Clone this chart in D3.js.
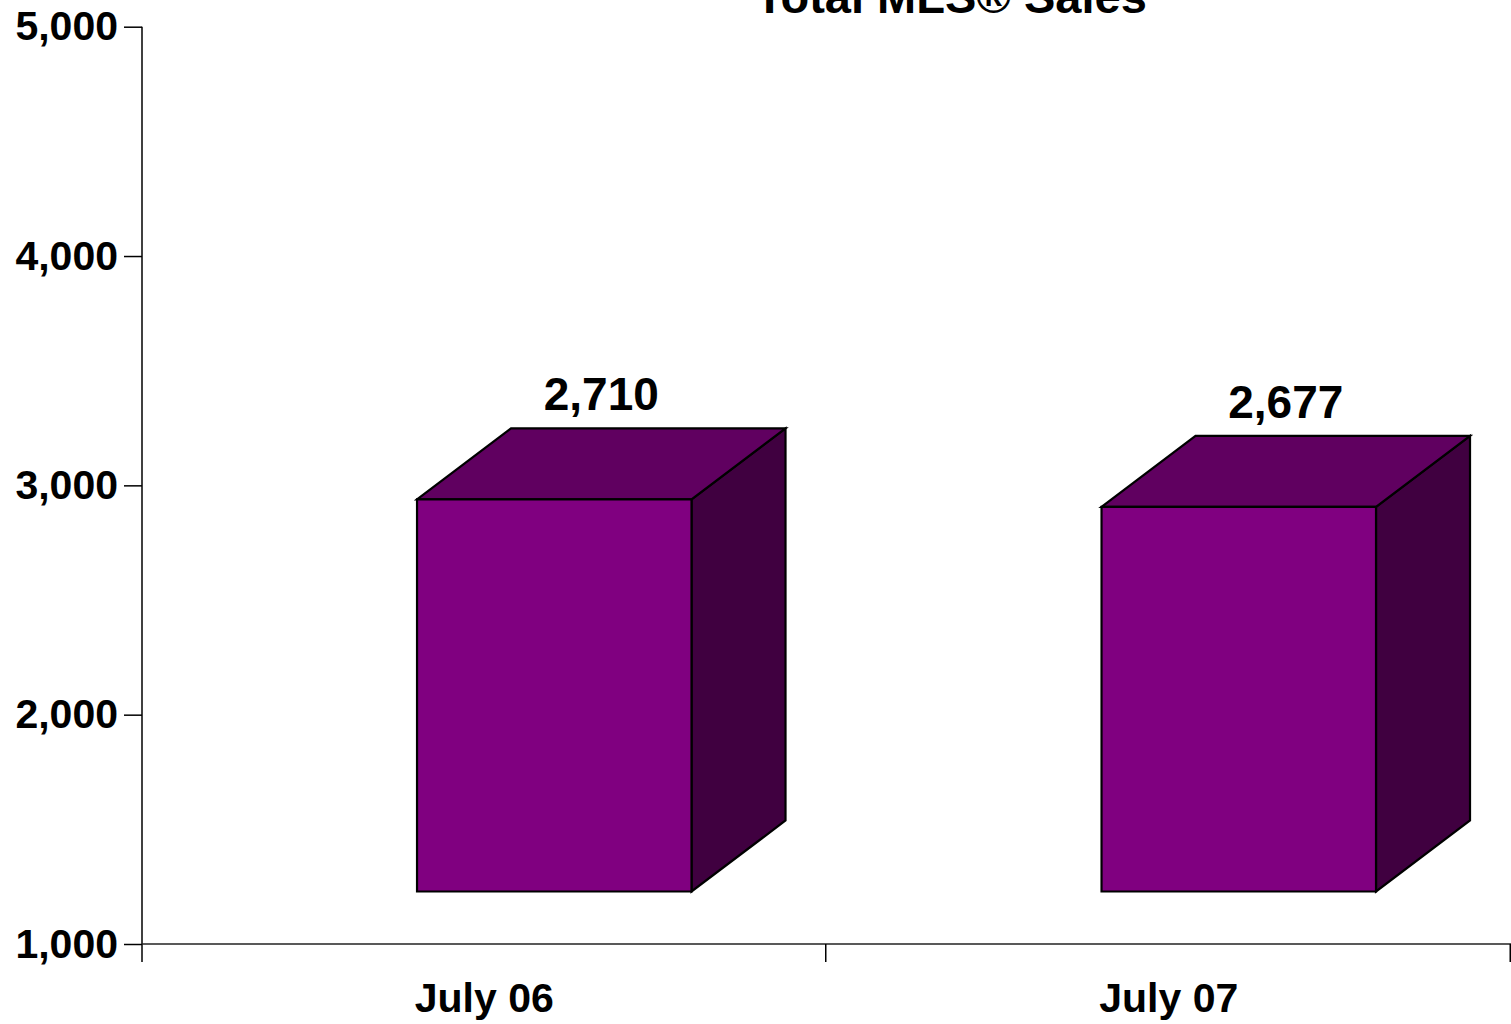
<!DOCTYPE html>
<html>
<head>
<meta charset="utf-8">
<script src="https://cdn.jsdelivr.net/npm/d3@7"></script>
<style>
  html, body { margin: 0; padding: 0; background: #ffffff; }
  svg { display: block; }
  text { font-family: "Liberation Sans", Arial, Helvetica, sans-serif; font-weight: bold; fill: #000; }
</style>
</head>
<body>
<svg id="chart" width="1511" height="1024"></svg>
<script>
// Monthly MLS sales, July of each year
const categories = ["July 06", "July 07"];
const salesValues = [2710, 2677];
const yTicks = [1000, 2000, 3000, 4000, 5000];
const titleText = "Total MLS® Sales";

const W = 1511, H = 1024;
const plot = { left: 142, right: 1511, top: 26.7, bottom: 944 };

// 3D box projection: the floor sits above the axis plane, depth goes up-right
const floorLift = 52.5;
const depthX = 94, depthY = 71;
const frontStart = 0.4018, frontWidth = 0.401;

const colors = { front: "#800080", top: "#600060", side: "#400040" };

const svg = d3.select("#chart");

const x = d3.scaleBand().domain(categories).range([plot.left, plot.right]).padding(0);
const y = d3.scaleLinear().domain([1000, 5000]).range([plot.bottom, plot.top]);

const fmt = d3.format(",");

// Title (partly clipped at the top edge)
svg.append("text")
  .attr("x", 951).attr("y", 13)
  .attr("text-anchor", "middle")
  .style("font-size", "47px")
  .text(titleText);

// Y axis
const yAxis = d3.axisLeft(y).tickValues(yTicks).tickFormat(fmt).tickSize(18).tickPadding(6);
const gy = svg.append("g").attr("transform", `translate(${plot.left},0)`).call(yAxis);
gy.select(".domain").remove();
gy.selectAll(".tick line").attr("stroke", "#000").attr("stroke-width", 1.5);
gy.selectAll(".tick text")
  .style("font-size", "41px")
  .style("font-family", '"Liberation Sans", Arial, sans-serif')
  .style("font-weight", "bold")
  .attr("fill", "#000");
svg.append("line")
  .attr("x1", plot.left).attr("x2", plot.left)
  .attr("y1", plot.top).attr("y2", plot.bottom + 18)
  .attr("stroke", "#000").attr("stroke-width", 1.5);

// X axis
svg.append("line")
  .attr("x1", plot.left).attr("x2", plot.right)
  .attr("y1", plot.bottom).attr("y2", plot.bottom)
  .attr("stroke", "#222").attr("stroke-width", 1.5);
const boundaries = categories.map(c => x(c) + x.bandwidth());
svg.selectAll(".xtick").data(boundaries).enter().append("line")
  .attr("class", "xtick")
  .attr("x1", d => d - 0.75).attr("x2", d => d - 0.75)
  .attr("y1", plot.bottom).attr("y2", plot.bottom + 18)
  .attr("stroke", "#000").attr("stroke-width", 1.5);
svg.selectAll(".xlabel").data(categories).enter().append("text")
  .attr("class", "xlabel")
  .attr("x", d => x(d) + x.bandwidth() / 2)
  .attr("y", 1012)
  .attr("text-anchor", "middle")
  .style("font-size", "41px")
  .text(d => d);

// Bars as 3D boxes
const data = categories.map((c, i) => ({ cat: c, value: salesValues[i] }));
const bars = svg.selectAll(".bar").data(data).enter().append("g").attr("class", "bar");

bars.each(function(d) {
  const g = d3.select(this);
  const x0 = x(d.cat) + x.bandwidth() * frontStart;
  const x1 = x0 + x.bandwidth() * frontWidth;
  const yb = y(1000) - floorLift;
  const yt = y(d.value) - floorLift;
  const stroke = { stroke: "#000", "stroke-width": 2.2, "stroke-linejoin": "miter" };

  const face = (pts, fill) => {
    const p = g.append("polygon")
      .attr("points", pts.map(q => q.join(",")).join(" "))
      .attr("fill", fill);
    Object.entries(stroke).forEach(([k, v]) => p.attr(k, v));
  };

  // side face
  face([[x1, yt], [x1 + depthX, yt - depthY], [x1 + depthX, yb - depthY], [x1, yb]], colors.side);
  // top face
  face([[x0, yt], [x0 + depthX, yt - depthY], [x1 + depthX, yt - depthY], [x1, yt]], colors.top);
  // front face
  face([[x0, yt], [x1, yt], [x1, yb], [x0, yb]], colors.front);

  // value label above the box
  g.append("text")
    .attr("x", (x0 + x1 + depthX) / 2)
    .attr("y", yt - depthY - 18)
    .attr("text-anchor", "middle")
    .style("font-size", "46px")
    .text(fmt(d.value));
});
</script>
</body>
</html>
